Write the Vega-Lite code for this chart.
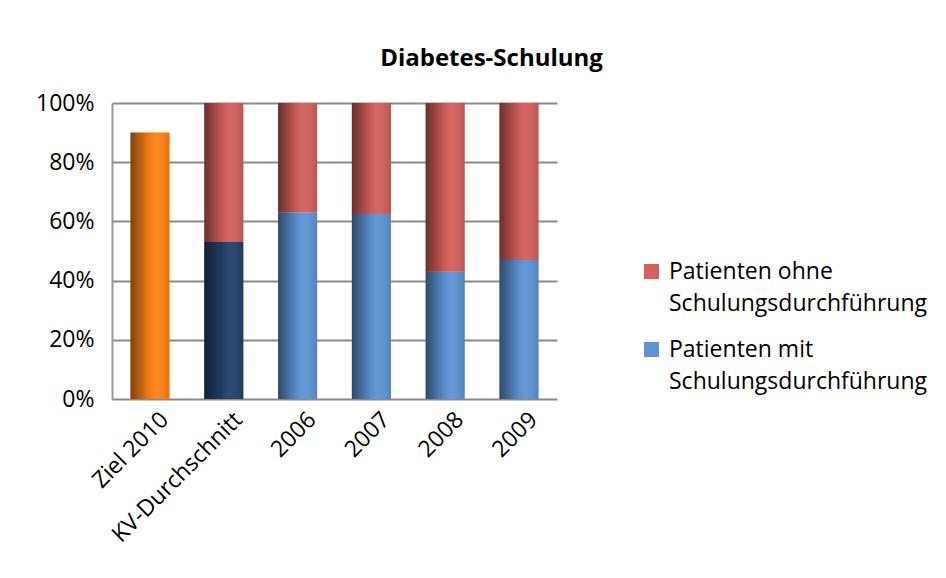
{
  "$schema": "https://vega.github.io/schema/vega-lite/v6.json",
  "autosize": "none",
  "width": 445,
  "height": 296,
  "padding": {"left": 112, "top": 103, "right": 389, "bottom": 179},
  "background": "white",
  "title": {
    "text": "Diabetes-Schulung",
    "font": "Open Sans",
    "fontSize": 24,
    "fontWeight": "bold",
    "color": "#000000",
    "anchor": "middle",
    "frame": "group",
    "dx": 157,
    "offset": 21
  },
  "data": {
    "values": [
      {"cat": "Ziel 2010", "serie": "Ziel", "value": 0.90},
      {"cat": "KV-Durchschnitt", "serie": "Patienten mit Schulungsdurchführung", "value": 0.53},
      {"cat": "KV-Durchschnitt", "serie": "Patienten ohne Schulungsdurchführung", "value": 0.47},
      {"cat": "2006", "serie": "Patienten mit Schulungsdurchführung", "value": 0.63},
      {"cat": "2006", "serie": "Patienten ohne Schulungsdurchführung", "value": 0.37},
      {"cat": "2007", "serie": "Patienten mit Schulungsdurchführung", "value": 0.625},
      {"cat": "2007", "serie": "Patienten ohne Schulungsdurchführung", "value": 0.375},
      {"cat": "2008", "serie": "Patienten mit Schulungsdurchführung", "value": 0.43},
      {"cat": "2008", "serie": "Patienten ohne Schulungsdurchführung", "value": 0.57},
      {"cat": "2009", "serie": "Patienten mit Schulungsdurchführung", "value": 0.47},
      {"cat": "2009", "serie": "Patienten ohne Schulungsdurchführung", "value": 0.53}
    ]
  },
  "encoding": {
    "x": {
      "field": "cat",
      "type": "nominal",
      "sort": ["Ziel 2010", "KV-Durchschnitt", "2006", "2007", "2008", "2009"],
      "scale": {"paddingInner": 0.47, "paddingOuter": 0.25},
      "title": null,
      "axis": {
        "labelAngle": -45,
        "labelFont": "Open Sans",
        "labelFontSize": 23,
        "labelColor": "#000000",
        "ticks": false,
        "domain": false,
        "labelPadding": 9,
        "labelOffset": 7
      }
    },
    "y": {
      "field": "value",
      "type": "quantitative",
      "stack": "zero",
      "scale": {"domain": [0, 1]},
      "title": null,
      "axis": {
        "values": [0, 0.2, 0.4, 0.6, 0.8, 1],
        "format": ".0%",
        "labelFont": "Open Sans",
        "labelFontSize": 23,
        "labelColor": "#000000",
        "labelPadding": 18,
        "ticks": false,
        "domain": true,
        "domainColor": "#9a9a9a",
        "domainWidth": 2,
        "grid": true,
        "gridColor": "#8a8a8a",
        "gridWidth": 2
      }
    },
    "order": {"field": "serie", "sort": "ascending"}
  },
  "layer": [
    {
      "mark": {"type": "bar", "stroke": null},
      "encoding": {
        "color": {
          "condition": [
            {"test": "datum.cat === 'Ziel 2010'", "value": "#FF8214"},
            {"test": "datum.cat === 'KV-Durchschnitt' && datum.serie === 'Patienten mit Schulungsdurchführung'", "value": "#22406A"}
          ],
          "field": "serie",
          "type": "nominal",
          "scale": {
            "domain": ["Patienten ohne Schulungsdurchführung", "Patienten mit Schulungsdurchführung"],
            "range": ["#D45F5B", "#5C94D5"]
          },
          "legend": {
            "title": null,
            "orient": "none",
            "legendX": 528,
            "legendY": 157,
            "symbolType": "square",
            "symbolSize": 225,
            "symbolStrokeWidth": 0,
            "labelFont": "Open Sans",
            "labelFontSize": 23,
            "labelColor": "#000000",
            "labelLimit": 400,
            "labelOffset": 6,
            "rowPadding": 22,
            "labelExpr": "datum.label === 'Patienten mit Schulungsdurchführung' ? ['Patienten mit', 'Schulungsdurchführung'] : ['Patienten ohne', 'Schulungsdurchführung']"
          }
        }
      }
    },
    {
      "mark": {
        "type": "bar",
        "stroke": null,
        "fill": {
          "gradient": "linear",
          "x1": 0, "y1": 0, "x2": 1, "y2": 0,
          "stops": [
            {"offset": 0, "color": "rgba(0,0,0,0.5)"},
            {"offset": 0.45, "color": "rgba(0,0,0,0.08)"},
            {"offset": 0.65, "color": "rgba(255,255,255,0.05)"},
            {"offset": 1, "color": "rgba(0,0,0,0.12)"}
          ]
        }
      }
    }
  ],
  "config": {
    "view": {"stroke": null},
    "style": {"guide-label": {"lineHeight": 32}}
  }
}
